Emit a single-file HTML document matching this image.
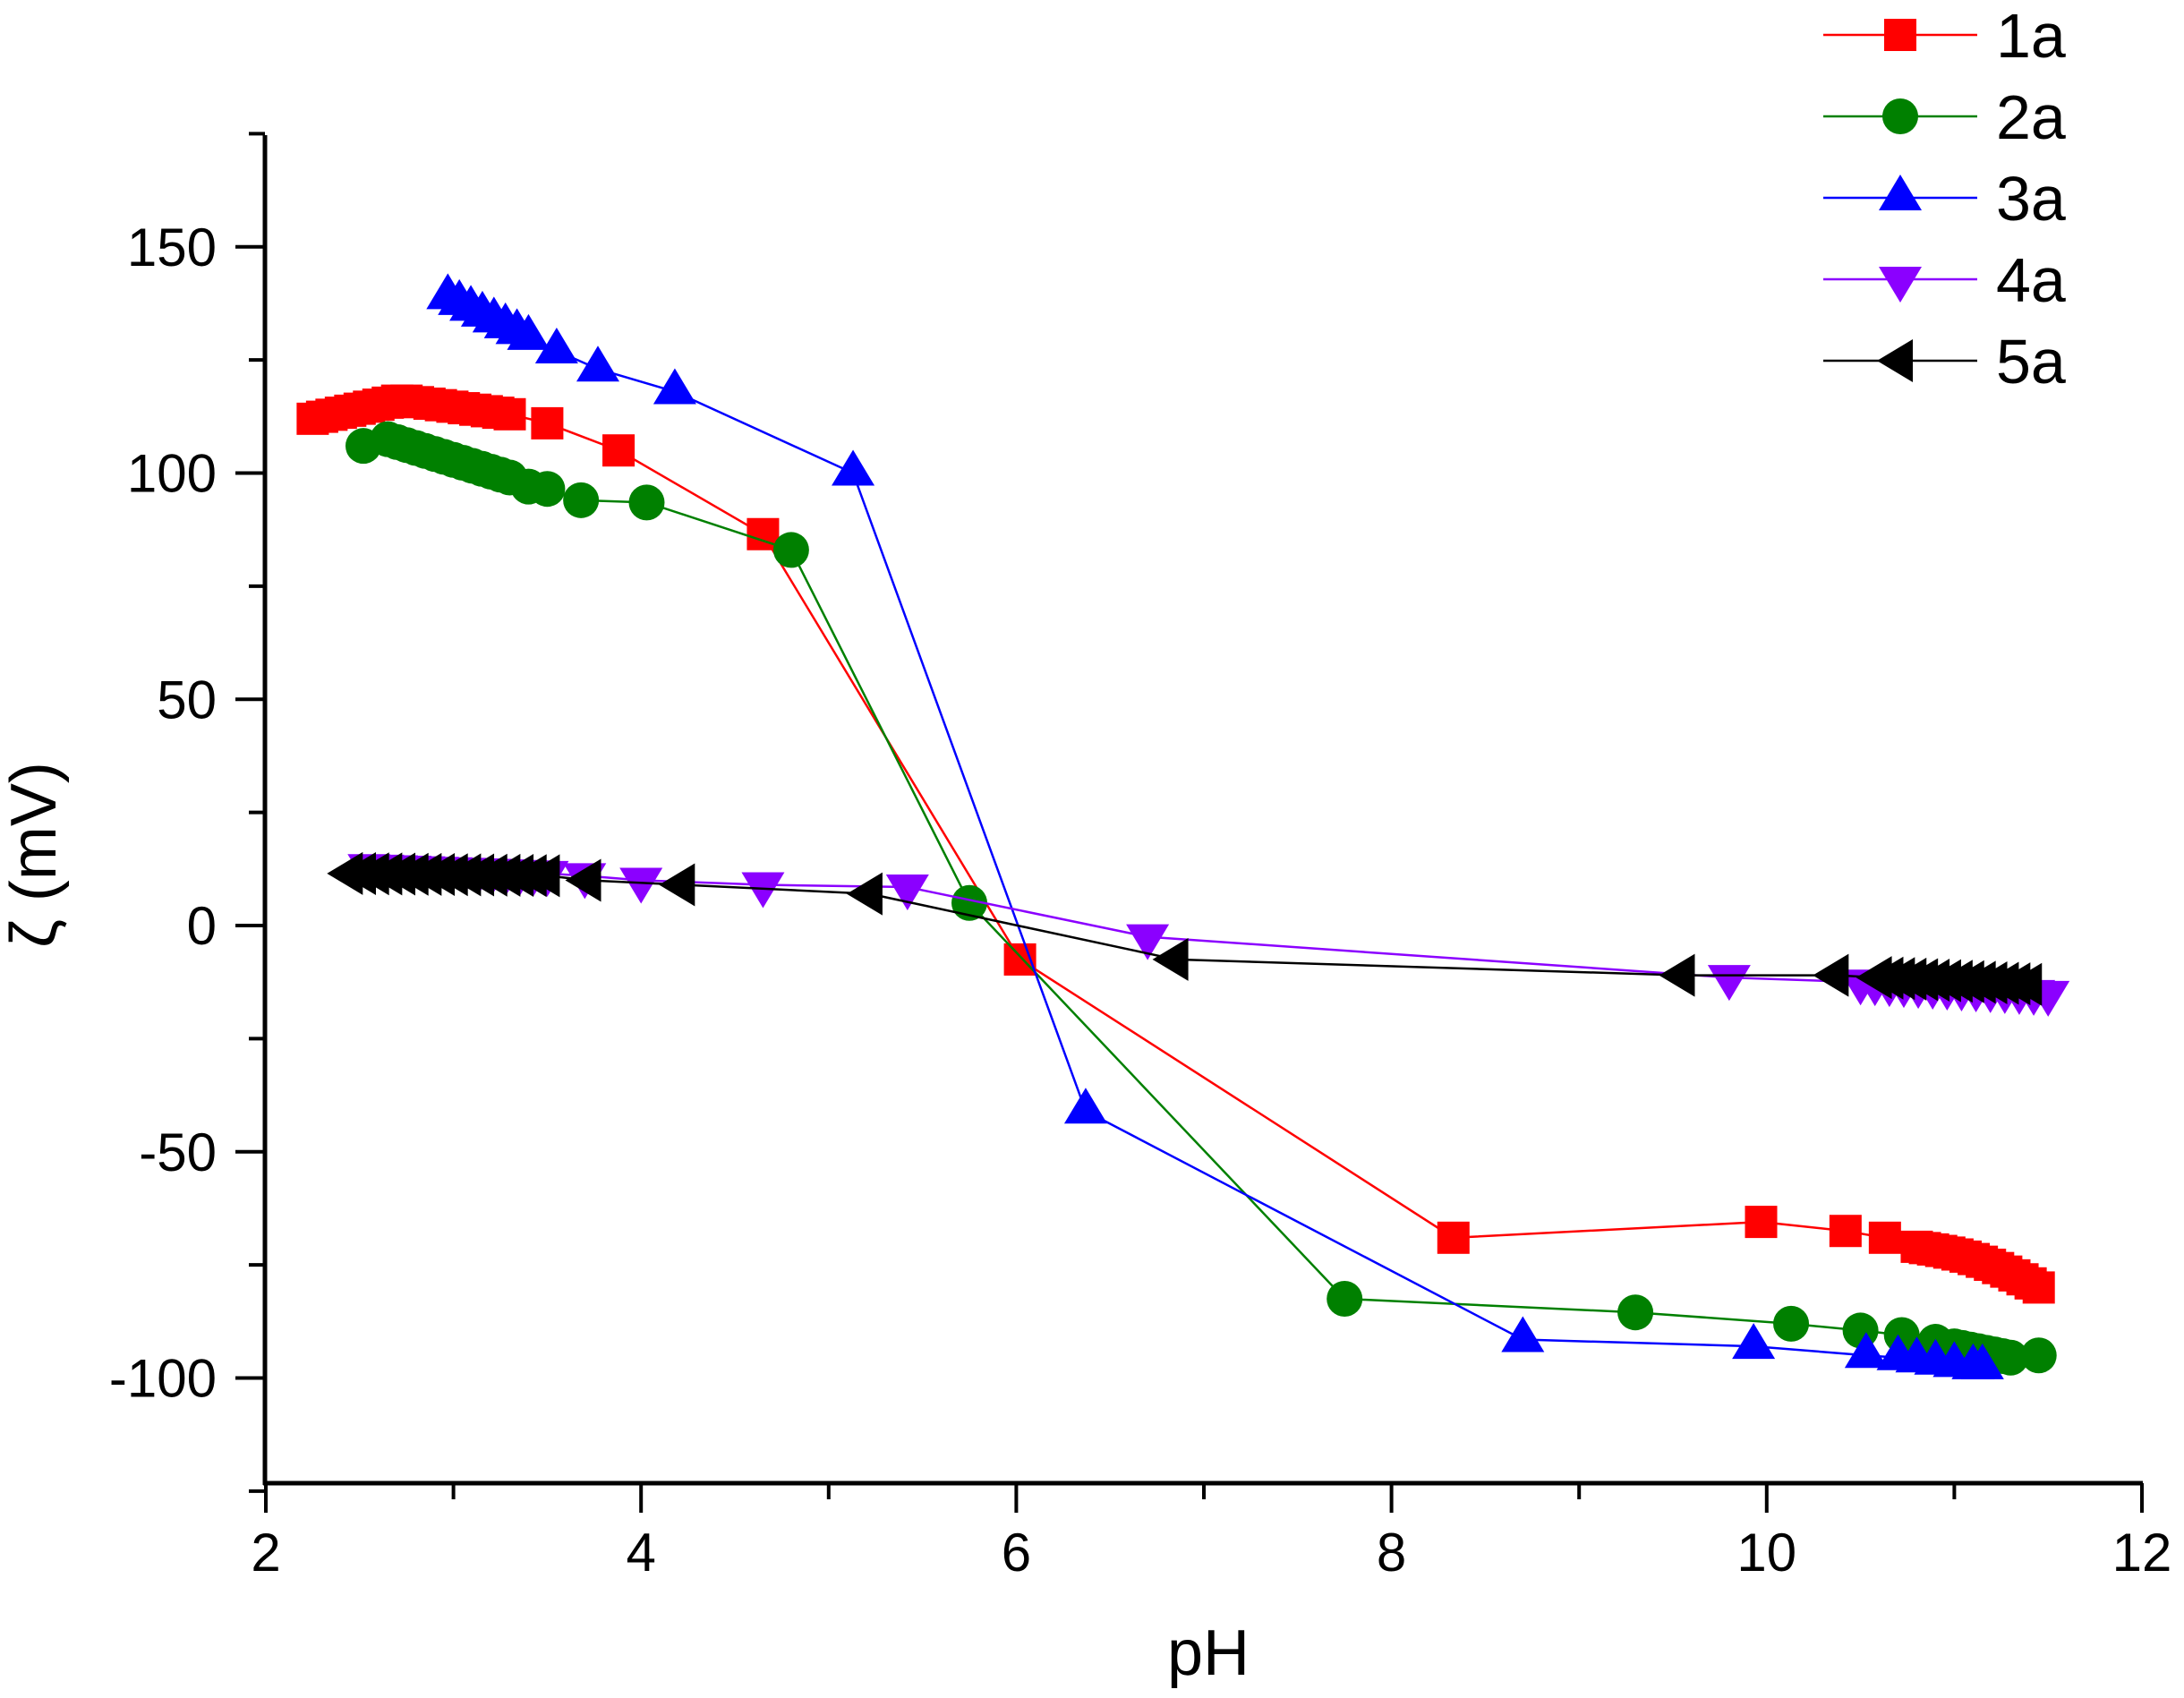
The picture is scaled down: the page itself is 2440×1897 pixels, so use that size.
<!DOCTYPE html>
<html><head><meta charset="utf-8"><style>
html,body{margin:0;padding:0;background:#fff}
svg{display:block}
text{font-family:"Liberation Sans",Arial,sans-serif;fill:#000}
</style></head><body>
<svg id="s" width="2440" height="1897" viewBox="0 0 2440 1897" xmlns="http://www.w3.org/2000/svg">
<g id="axes" stroke="#000" stroke-width="5" fill="none">
<line x1="296" y1="151" x2="296" y2="1659"/>
<line x1="294" y1="1657" x2="2394" y2="1657"/>
</g>
<g id="ticks" stroke="#000" stroke-width="4"></g>
<g id="labels" font-size="60"></g>
<text x="1350" y="1871" font-size="72" text-anchor="middle">pH</text>
<text transform="translate(62,955) rotate(-90)" font-size="72" text-anchor="middle">ζ (mV)</text>
<g id="data"></g>
<g id="legend"></g>
</svg>
<script>
var NS="http://www.w3.org/2000/svg";
function X(p){return 297+(p-2)*209.6}
function Y(z){return 1034-z*5.055}
function el(t,a,par,txt){var e=document.createElementNS(NS,t);for(var k in a)e.setAttribute(k,a[k]);if(txt)e.textContent=txt;par.appendChild(e);return e}
var tk=document.getElementById('ticks'),lb=document.getElementById('labels');
for(var p=2;p<=12;p++){var x=X(p);var maj=p%2==0;el('line',{x1:x,y1:1657,x2:x,y2:maj?1690:1675},tk);
 if(maj)el('text',{x:x,y:1755,'text-anchor':'middle'},lb,String(p));}
for(var z=-125;z<=175;z+=25){var y=Y(z);var maj=z%50==0;el('line',{x1:maj?263:278,y1:y,x2:296,y2:y},tk);
 if(maj)el('text',{x:242,y:y+21,'text-anchor':'end'},lb,String(z));}
function dense(a,b,n,curve){var r=[];for(var i=0;i<n;i++){var t=i/(n-1);var z=a[1]+(b[1]-a[1])*t+(curve?curve*Math.sin(Math.PI*t):0);r.push([a[0]+(b[0]-a[0])*t,z]);}return r}
var S=[
{c:'#ff0000',m:'sq',d:[].concat(dense([2.25,112],[2.7,116],10,0),dense([2.75,116],[3.3,113],10,0),[[3.5,111],[3.88,105],[4.65,86.5],[6.02,-7.5],[8.33,-69],[9.97,-65.5],[10.42,-67.5],[10.63,-69]],dense([10.8,-71],[11.45,-80],16,1.5))},
{c:'#008000',m:'ci',d:[].concat([[2.52,106]],dense([2.65,107.5],[3.3,99],14,0),[[3.4,97],[3.5,96.5],[3.68,94],[4.03,93.5],[4.8,83],[5.75,5],[7.75,-82.5],[9.3,-85.5],[10.13,-88],[10.5,-89.5],[10.72,-90.5],[10.9,-92]],dense([11.0,-93],[11.3,-95.5],8,0),[[11.45,-95]])},
{c:'#0000ff',m:'tu',d:[].concat(dense([2.97,139],[3.4,130],8,0),[[3.55,127],[3.77,123],[4.18,118],[5.13,100],[6.37,-41],[8.7,-91.5],[9.93,-93],[10.53,-95],[10.7,-95.5],[10.8,-96],[10.9,-96.5],[11.0,-97],[11.1,-97.5],[11.15,-97.5]])},
{c:'#8b00ff',m:'td',d:[].concat(dense([2.55,13],[3.5,11.5],14,0),[[3.7,11],[4.0,10],[4.65,9],[5.42,8.5],[6.7,-2.5],[9.8,-11.5]],dense([10.5,-12.5],[11.5,-15],14,0))},
{c:'#000000',m:'tl',d:[].concat(dense([2.45,11.5],[3.5,11],16,0),[[3.72,10],[4.22,9],[5.22,7],[6.85,-7.5],[9.55,-11],[10.37,-11]],dense([10.6,-11.5],[11.4,-13],14,0))}
];
function marker(m,x,y,c,par){
 if(m=='sq')el('rect',{x:x-18,y:y-18,width:36,height:36,fill:c},par);
 else if(m=='ci')el('circle',{cx:x,cy:y,r:20,fill:c},par);
 else if(m=='tu')el('polygon',{points:(x-24)+','+(y+14)+' '+(x+24)+','+(y+14)+' '+x+','+(y-26),fill:c},par);
 else if(m=='td')el('polygon',{points:(x-24)+','+(y-14)+' '+(x+24)+','+(y-14)+' '+x+','+(y+26),fill:c},par);
 else el('polygon',{points:(x-26)+','+y+' '+(x+14)+','+(y-24)+' '+(x+14)+','+(y+24),fill:c},par);
}
var dg=document.getElementById('data');
S.forEach(function(s){var g=el('g',{},dg);
 el('polyline',{points:s.d.map(function(p){return X(p[0])+','+Y(p[1])}).join(' '),fill:'none',stroke:s.c,'stroke-width':2.5},g);
 s.d.forEach(function(p){marker(s.m,X(p[0]),Y(p[1]),s.c,g)});});
var lg=document.getElementById('legend');
['1a','2a','3a','4a','5a'].forEach(function(n,i){var y=39+i*91;var s=S[i];
 el('line',{x1:2037,y1:y,x2:2209,y2:y,stroke:s.c,'stroke-width':2.5},lg);
 marker(s.m,2123,y,s.c,lg);
 el('text',{x:2230,y:y+25,'font-size':70},lg,n);});
</script>
</body></html>
